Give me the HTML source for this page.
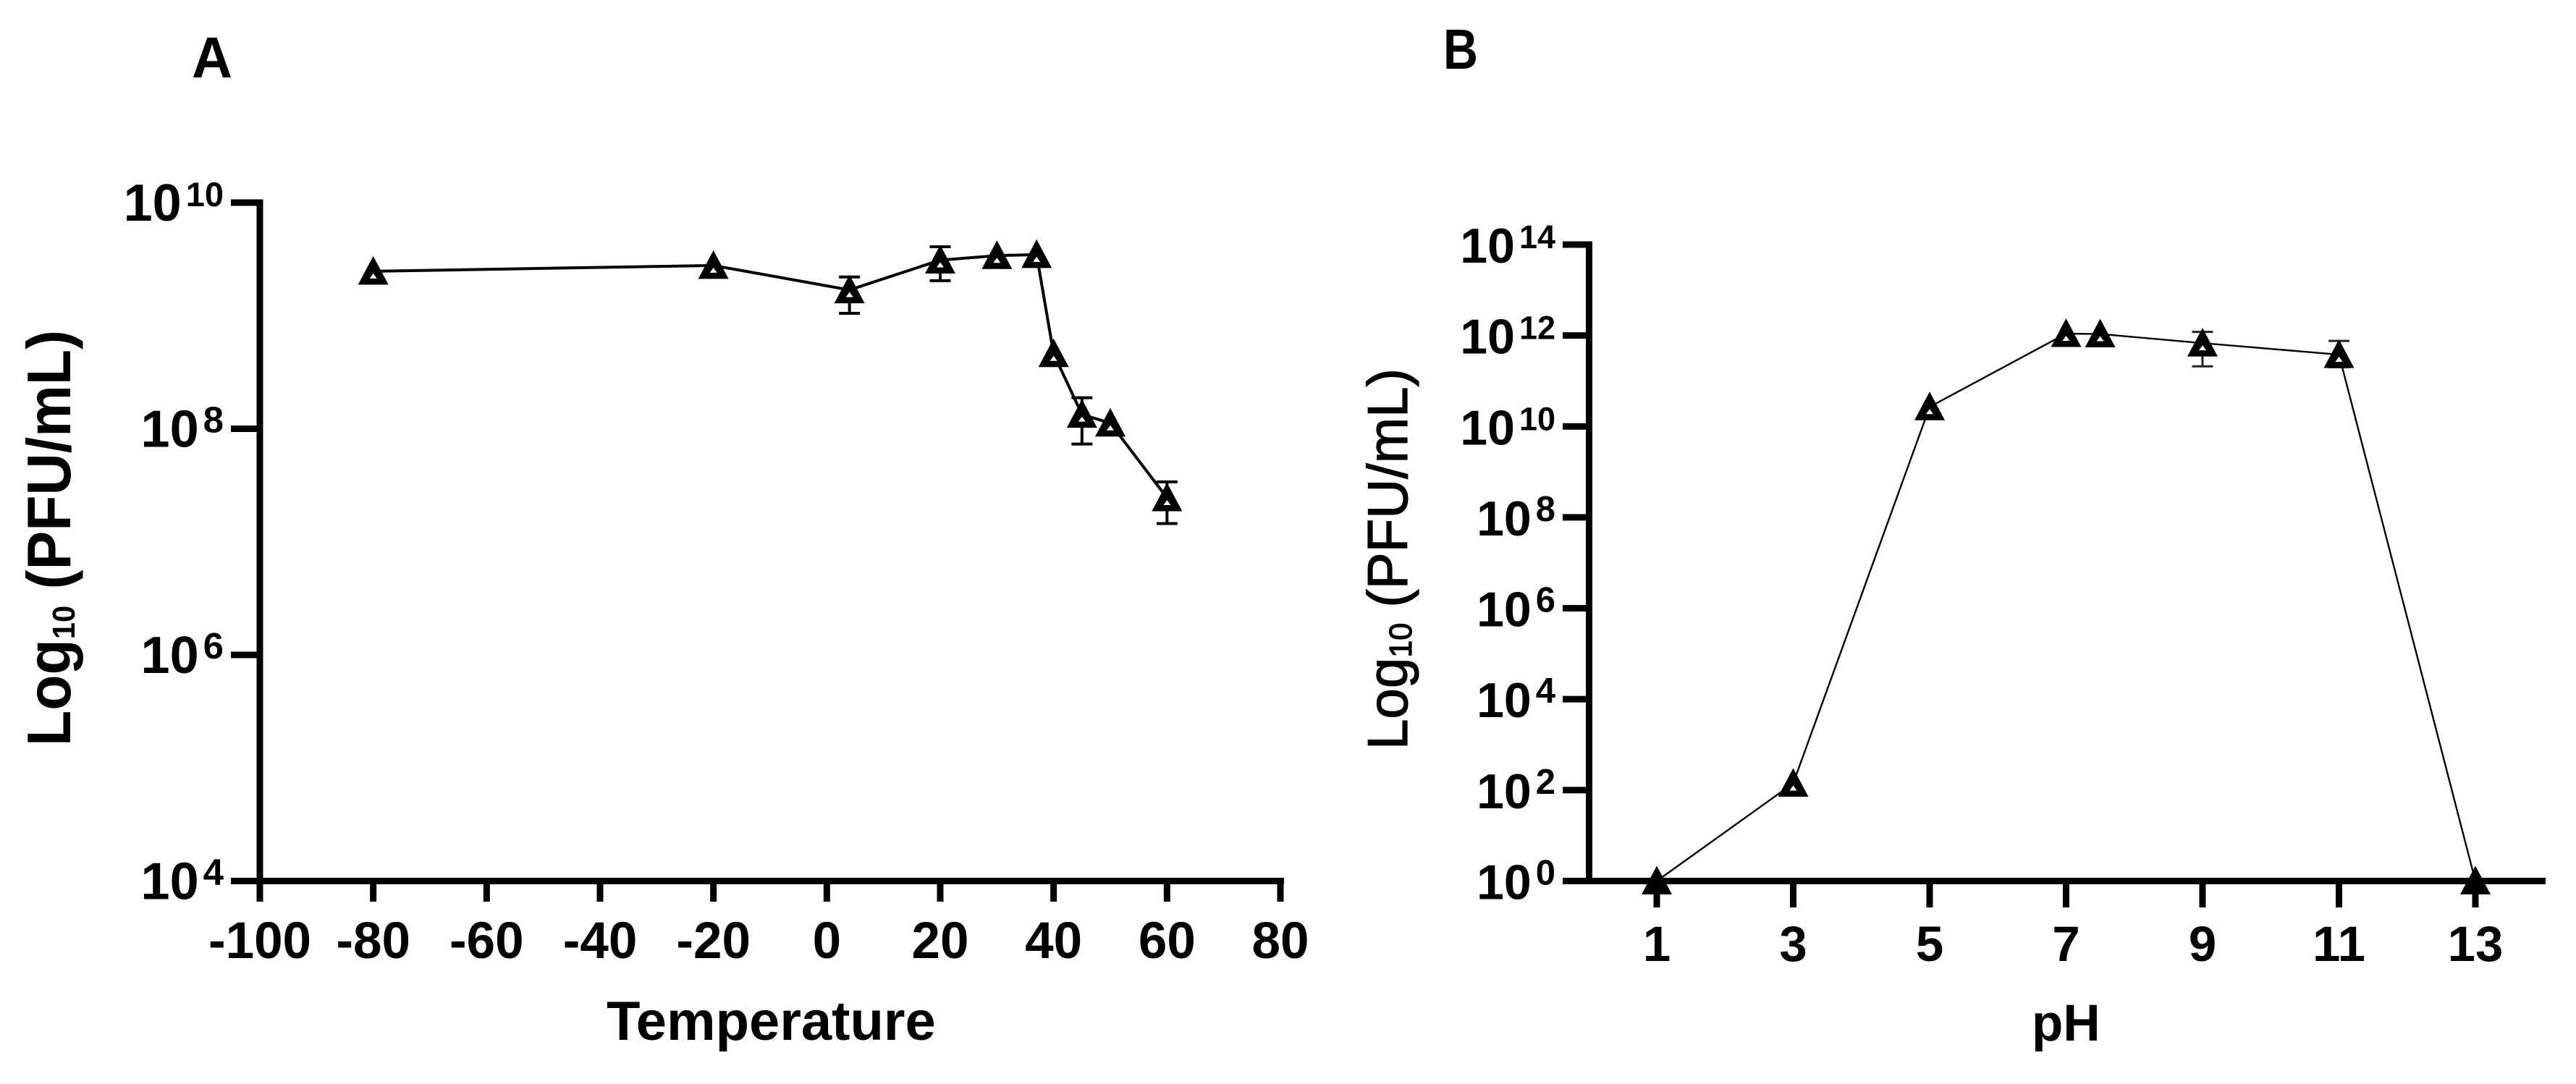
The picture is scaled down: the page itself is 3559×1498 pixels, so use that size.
<!DOCTYPE html>
<html lang="en">
<head>
<meta charset="utf-8">
<title>Phage stability vs temperature and pH</title>
<style>
html,body{margin:0;padding:0;background:#fff;}
svg{display:block;}
text{font-family:"Liberation Sans",Arial,sans-serif;fill:#000;}
</style>
</head>
<body>
<svg id="figure" xmlns="http://www.w3.org/2000/svg" width="3559" height="1498" viewBox="0 0 3559 1498">
  <rect x="0" y="0" width="3559" height="1498" fill="#fff"/>
  <text x="265" y="107" font-size="80" font-weight="700" textLength="56" lengthAdjust="spacingAndGlyphs">A</text>
  <text x="1994" y="95" font-size="78" font-weight="700" textLength="48" lengthAdjust="spacingAndGlyphs">B</text>
  <text x="838" y="1437" font-size="76" font-weight="700">Temperature</text>
  <text x="2807" y="1438" font-size="71" font-weight="700">pH</text>
  <text transform="translate(97,1031) rotate(-90)" font-size="85" font-weight="700" textLength="575" lengthAdjust="spacingAndGlyphs">Log<tspan font-size="44" dy="6">10</tspan><tspan dy="-6"> (PFU/mL)</tspan></text>
  <text transform="translate(1944,1036) rotate(-90)" font-size="78" font-weight="400" stroke="#000" stroke-width="1.2" textLength="527" lengthAdjust="spacingAndGlyphs">Log<tspan font-size="44" dy="6">10</tspan><tspan dy="-6"> (PFU/mL)</tspan></text>
  <g id="panel-a"></g>
  <g id="panel-b"></g>
</svg>
<script>
// Panel A: titre versus temperature
const tempCategories = [-80, -20, 4, 20, 30, 37, 40, 45, 50, 60];
const tempTiter = [2.47e9, 2.78e9, 1.69e9, 3.1e9, 3.4e9, 3.47e9, 4.61e8, 1.34e8, 1.12e8, 2.45e7];
const tempErrHigh = [null, null, 2.2e9, 4.07e9, null, null, null, 1.88e8, null, 3.39e7];
const tempErrLow = [null, null, 1.05e9, 2.04e9, null, null, null, 7.33e7, null, 1.45e7];
const tempXTicks = [-100, -80, -60, -40, -20, 0, 20, 40, 60, 80];
const tempYExponents = [4, 6, 8, 10];

// Panel B: titre versus pH
const phCategories = [1, 3, 5, 7, 7.5, 9, 11, 13];
const phTiter = [1, 141, 2.69e10, 1.1e12, 1.08e12, 6.8e11, 3.8e11, 1];
const phErrHigh = [null, null, null, null, null, 1.2e12, 7.6e11, null];
const phErrLow = [null, null, null, null, null, 2.1e11, 2e11, null];
const phXTicks = [1, 3, 5, 7, 9, 11, 13];
const phYExponents = [0, 2, 4, 6, 8, 10, 12, 14];

const NS = 'http://www.w3.org/2000/svg';

function mk(parent, tag, attrs) {
  const el = document.createElementNS(NS, tag);
  Object.keys(attrs).forEach(function (k) { el.setAttribute(k, attrs[k]); });
  parent.appendChild(el);
  return el;
}

function drawPanel(cfg) {
  const root = document.getElementById(cfg.id);
  const xScale = function (v) { return cfg.x0 + (v - cfg.xMin) * (cfg.x1 - cfg.x0) / (cfg.xMax - cfg.xMin); };
  const yScale = function (v) { return cfg.y0 + (Math.log10(v) - cfg.logMin) * (cfg.y1 - cfg.y0) / (cfg.logMax - cfg.logMin); };
  const axisW = 9;
  let el;

  // axes
  el = mk(root, 'rect', {x: cfg.axisX - axisW / 2, y: cfg.y1 - axisW / 2, width: axisW, height: cfg.y0 - cfg.y1 + axisW, fill: '#000'});
  
  
  el = mk(root, 'rect', {x: cfg.axisX, y: cfg.y0 - axisW / 2, width: cfg.axisEnd - cfg.axisX, height: axisW, fill: '#000'});
  
  

  // y ticks and labels
  cfg.yExps.forEach(function (exp) {
    const y = yScale(Math.pow(10, exp));
    const tick = mk(root, 'rect', {x: cfg.tickLeft, y: y - axisW / 2, width: cfg.axisX - cfg.tickLeft, height: axisW, fill: '#000'});
    
    
    const label = mk(root, 'text', {x: cfg.yLabelEnd, y: y + 25, 'text-anchor': 'end', 'font-size': cfg.yFont, 'font-weight': 700});
    
    
    label.appendChild(document.createTextNode('10'));
    const sup = mk(label, 'tspan', {dy: -20, dx: 6, 'font-size': String(exp).length > 1 ? cfg.supFont : cfg.supFont + 4});
    sup.textContent = String(exp);
  });

  // x ticks and labels
  cfg.xTicks.forEach(function (v) {
    const x = xScale(v);
    const tick = mk(root, 'rect', {x: x - axisW / 2, y: cfg.y0, width: axisW, height: cfg.tickBottom - cfg.y0, fill: '#000'});
    
    
    const label = mk(root, 'text', {x: x, y: cfg.xLabelBase, 'text-anchor': 'middle', 'font-size': cfg.xFont, 'font-weight': 700});
    
    
    label.textContent = String(v);
  });

  // connecting line
  const pts = cfg.cats.map(function (c, i) { return xScale(c) + ',' + yScale(cfg.vals[i]); }).join(' ');
  el = mk(root, 'polyline', {points: pts, fill: 'none', stroke: '#000', 'stroke-width': cfg.lineW});
  
  

  // error bars
  cfg.cats.forEach(function (c, i) {
    if (cfg.hi[i] === null) { return; }
    const x = xScale(c);
    const yHi = yScale(cfg.hi[i]);
    const yLo = yScale(cfg.lo[i]);
    const d = 'M' + x + ' ' + yHi + 'V' + yLo + 'M' + (x - 14.5) + ' ' + yHi + 'H' + (x + 14.5) + 'M' + (x - 14.5) + ' ' + yLo + 'H' + (x + 14.5);
    const bar = mk(root, 'path', {d: d, fill: 'none', stroke: cfg.errColor, 'stroke-width': cfg.errW});
    
    
  });

  // triangle markers
  cfg.cats.forEach(function (c, i) {
    const x = xScale(c);
    const y = yScale(cfg.vals[i]);
    const outer = mk(root, 'polygon', {points: (x - 21) + ',' + (y + 18.5) + ' ' + (x + 21) + ',' + (y + 18.5) + ' ' + x + ',' + (y - 21), fill: '#000'});
    
    
    if (cfg.vals[i] > 1) {
      const hole = mk(root, 'polygon', {points: (x - 5) + ',' + (y + 10) + ' ' + (x + 5) + ',' + (y + 10) + ' ' + x + ',' + (y + 3), fill: '#fff'});
      
      
    }
  });
}

drawPanel({
  id: 'panel-a', cats: tempCategories, vals: tempTiter, hi: tempErrHigh, lo: tempErrLow,
  xTicks: tempXTicks, yExps: tempYExponents,
  xMin: -100, xMax: 80, x0: 359, x1: 1769, axisX: 359, axisEnd: 1774,
  logMin: 4, logMax: 10, y0: 1217.5, y1: 280,
  tickLeft: 319, tickBottom: 1246, yLabelEnd: 309, xLabelBase: 1324,
  yFont: 72, supFont: 47, xFont: 71,
  lineW: 4, errW: 4, errColor: '#000'
});

drawPanel({
  id: 'panel-b', cats: phCategories, vals: phTiter, hi: phErrHigh, lo: phErrLow,
  xTicks: phXTicks, yExps: phYExponents,
  xMin: 1, xMax: 13, x0: 2289, x1: 3420, axisX: 2195.5, axisEnd: 3517,
  logMin: 0, logMax: 14, y0: 1217.5, y1: 338,
  tickLeft: 2159, tickBottom: 1254, yLabelEnd: 2149, xLabelBase: 1328,
  yFont: 68, supFont: 45, xFont: 69,
  lineW: 2.4, errW: 3, errColor: '#222'
});
</script>
</body>
</html>
